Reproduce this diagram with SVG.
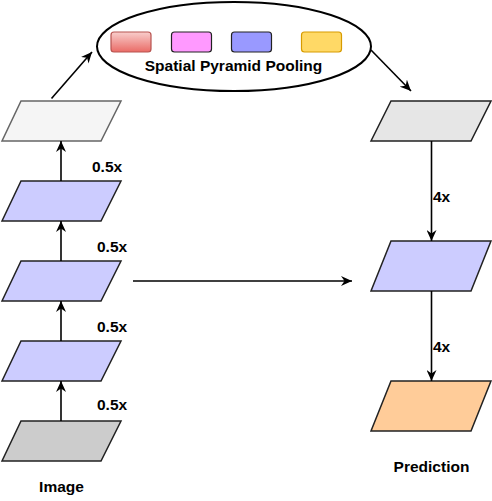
<svg xmlns="http://www.w3.org/2000/svg" width="492" height="501" viewBox="0 0 492 501">
<style>
  text { font-family: "Liberation Sans", Arial, sans-serif; font-weight: bold; font-size: 15.5px; fill: #000; }
  .para { stroke: #222; stroke-width: 1.5; }
  .conn { fill: none; stroke: #000; stroke-width: 1.6; }
  .pool { stroke-width: 1.2; }
</style>
<defs>
  <linearGradient id="redGrad" x1="0" y1="0" x2="0" y2="1">
    <stop offset="0" stop-color="#f8cecc"/>
    <stop offset="1" stop-color="#ea6b66"/>
  </linearGradient>
  <marker id="arrow" viewBox="0 0 11 10" refX="11" refY="5" markerWidth="11" markerHeight="10" markerUnits="userSpaceOnUse" orient="auto">
    <path d="M0,0 L11,5 L0,10 L3.5,5 Z" fill="#000"/>
  </marker>
</defs>

<g id="spp">
  <ellipse cx="234" cy="46.5" rx="137" ry="44.5" fill="#fff" stroke="#000" stroke-width="2"/>
  <rect x="111" y="32" width="40" height="20" rx="3" fill="url(#redGrad)" stroke="#b85450" class="pool"/>
  <rect x="171.5" y="32" width="40" height="20" rx="3" fill="#ff99ff" stroke="#222" class="pool"/>
  <rect x="231.5" y="32" width="40" height="20" rx="3" fill="#9999ff" stroke="#222" class="pool"/>
  <rect x="301.5" y="32" width="40" height="20" rx="3" fill="#ffd966" stroke="#d79b00" class="pool"/>
  <text x="233.5" y="71" text-anchor="middle">Spatial Pyramid Pooling</text>
</g>

<g id="feat4">
  <polygon points="21,101 121,101 101,141 2,141" fill="#f5f5f5" stroke="#666" stroke-width="1.5"/>
</g>
<g id="feat3">
  <polygon points="21,181 121,181 101,221 2,221" fill="#ccccff" class="para"/>
</g>
<g id="feat2">
  <polygon points="21,261 121,261 101,301 2,301" fill="#ccccff" class="para"/>
</g>
<g id="feat1">
  <polygon points="21,341 121,341 101,381 2,381" fill="#ccccff" class="para"/>
</g>
<g id="image">
  <polygon points="21,421 121,421 101,461 2,461" fill="#cccccc" class="para"/>
  <text x="61.5" y="492" text-anchor="middle">Image</text>
</g>

<g id="dec1">
  <polygon points="391,101 491,101 471,141 371,141" fill="#e6e6e6" class="para"/>
</g>
<g id="dec2">
  <polygon points="391,241 491,241 471,291 371,291" fill="#ccccff" class="para"/>
</g>
<g id="prediction">
  <polygon points="391,381 491,381 471,431 371,431" fill="#ffcc99" class="para"/>
  <text x="431.5" y="472" text-anchor="middle">Prediction</text>
</g>

<g id="connectors">
  <line x1="61" y1="421" x2="61" y2="381" class="conn" marker-end="url(#arrow)"/>
  <line x1="61" y1="341" x2="61" y2="301" class="conn" marker-end="url(#arrow)"/>
  <line x1="61" y1="261" x2="61" y2="221" class="conn" marker-end="url(#arrow)"/>
  <line x1="61" y1="181" x2="61" y2="141" class="conn" marker-end="url(#arrow)"/>
  <line x1="51.5" y1="98.5" x2="92" y2="52" class="conn" marker-end="url(#arrow)"/>
  <line x1="371" y1="50" x2="411" y2="91" class="conn" marker-end="url(#arrow)"/>
  <line x1="431.5" y1="141" x2="431.5" y2="241" class="conn" marker-end="url(#arrow)"/>
  <line x1="431.5" y1="291" x2="431.5" y2="381" class="conn" marker-end="url(#arrow)"/>
  <line x1="133" y1="281" x2="352" y2="281" class="conn" marker-end="url(#arrow)"/>
  <text x="92" y="172">0.5x</text>
  <text x="97" y="252">0.5x</text>
  <text x="97" y="332">0.5x</text>
  <text x="97" y="410">0.5x</text>
  <text x="433" y="202">4x</text>
  <text x="433" y="352">4x</text>
</g>
</svg>
